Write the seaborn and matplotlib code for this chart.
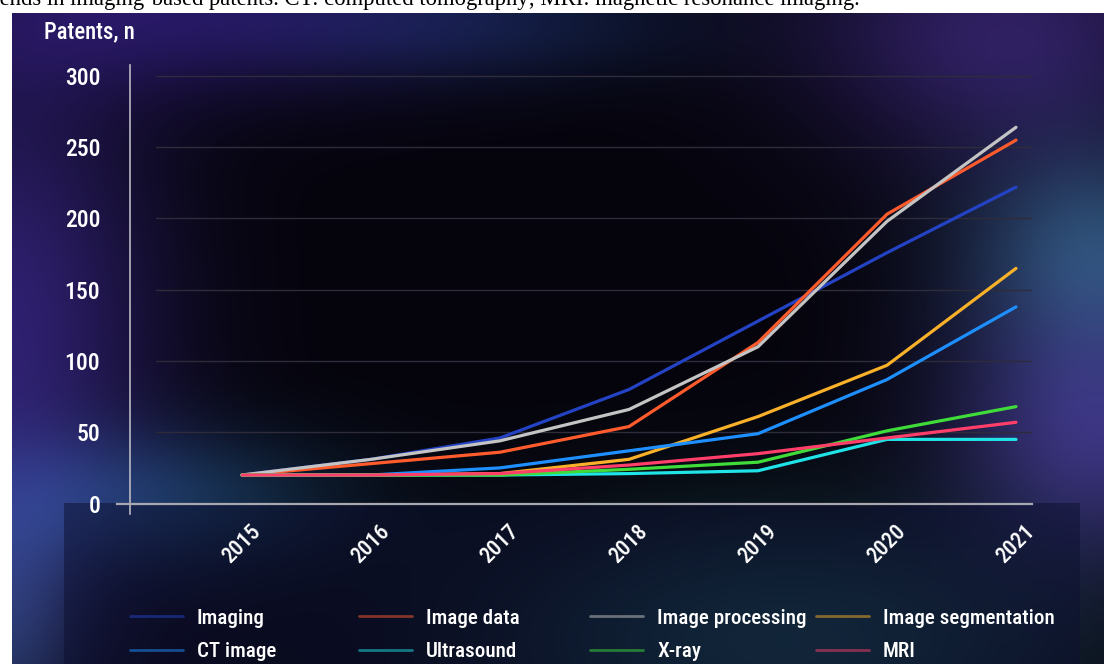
import os
import numpy as np
import pandas as pd
import matplotlib
matplotlib.use("Agg")
import matplotlib.pyplot as plt
from matplotlib import font_manager as fm
from matplotlib.font_manager import FontProperties
from matplotlib.textpath import TextPath
from matplotlib.lines import Line2D
from matplotlib.patches import Rectangle
import seaborn as sns

# ---- data -------------------------------------------------------------
years = [2015, 2016, 2017, 2018, 2019, 2020, 2021]
imaging = [20, 31, 46, 80, 128, 176, 222]
image_data = [20, 28, 36, 54, 113, 203, 255]
image_processing = [20, 31, 44, 66, 110, 198, 264]
image_segmentation = [20, 20, 21, 31, 61, 97, 165]
ct_image = [20, 20, 25, 37, 49, 87, 138]
ultrasound = [20, 20, 20, 21, 23, 45, 45]
xray = [20, 20, 20, 24, 29, 51, 68]
mri = [20, 20, 21, 27, 35, 46, 57]

series_names = ["Imaging", "Image data", "Image processing", "Image segmentation",
                "CT image", "Ultrasound", "X-ray", "MRI"]
series_values = [imaging, image_data, image_processing, image_segmentation,
                 ct_image, ultrasound, xray, mri]
series_colors = ["#2443c4", "#ff5b2c", "#c4c4c4", "#f9b12a",
                 "#1e8fff", "#1fe3e6", "#3fdc3a", "#ff3e6a"]
y_ticks = [0, 50, 100, 150, 200, 250, 300]

df = pd.DataFrame({
    "year": np.tile(years, len(series_names)),
    "patents": np.concatenate(series_values),
    "series": np.repeat(series_names, len(years)),
})

# ---- style ------------------------------------------------------------
sns.set_style("dark")
plt.rcParams["font.family"] = ["Roboto", "DejaVu Sans"]


def condensed_font():
    """Prefer a regular-weight condensed sans face when one is installed."""
    prefs = ["roboto", "opensans", "open sans", "noto", "liberation", "lato", "dejavu"]
    found = []
    for f in fm.fontManager.ttflist:
        fn = os.path.basename(f.fname).lower()
        nm = f.name.lower()
        tag = fn + " " + nm + " " + str(f.stretch).lower()
        if not any(k in tag for k in ("condensed", "narrow")):
            continue
        if f.style != "normal" or "mono" in tag or "bold" in fn or "light" in fn:
            continue
        if "serif" in tag and "sans" not in tag:
            continue
        try:
            w = int(f.weight)
        except (TypeError, ValueError):
            w = 400 if str(f.weight) in ("normal", "regular", "book", "medium") else 700
        if w > 550:
            continue
        rank = next((i for i, k in enumerate(prefs) if k in tag), len(prefs))
        found.append((rank, fn, f.fname))
    if found:
        found.sort()
        return FontProperties(fname=found[0][2])
    return FontProperties(family="Roboto")


fp = condensed_font()


def fit_size(text, target_px, max_size):
    w = TextPath((0, 0), text, size=max_size, prop=fp).get_extents().width * 100 / 72
    return min(max_size, max_size * target_px / w)


legend_size = fit_size("Image segmentation", 168, 16)
tick_size = fit_size("300", 34, 17)
xtick_size = fit_size("2015", 45, 16)
label_size = fit_size("Patents, n", 88, 17)

W, H = 1104, 664
fig = plt.figure(figsize=(W / 100, H / 100), dpi=100, facecolor="white")

# ---- glowing backdrop -------------------------------------------------
bg = fig.add_axes([0, 0, 1, 1])
bg.set_xlim(0, W)
bg.set_ylim(H, 0)
bg.axis("off")

x0, y0 = 12, 13
yy, xx = np.mgrid[y0:H, x0:W] + 0.5
img = np.zeros(xx.shape + (3,)) + np.array([5, 4, 12], float)


def glow(cx, cy, sx, sy, rgb):
    g = np.exp(-(((xx - cx) / sx) ** 2 + ((yy - cy) / sy) ** 2) / 2)
    return g[..., None] * np.array(rgb, float)


img += glow(0, 330, 110, 200, (42, 28, 100))
img += glow(180, 10, 200, 60, (30, 15, 75))
img += glow(480, 25, 160, 40, (8, 22, 40))
img += glow(160, 500, 130, 50, (15, 45, 65))
img += glow(0, 620, 60, 90, (25, 45, 70))
img += glow(1000, 30, 140, 90, (40, 25, 80))
img += glow(1104, 250, 90, 70, (25, 60, 70))
img += glow(1104, 430, 100, 90, (45, 36, 92))
img += glow(1060, 320, 110, 170, (12, 14, 30))
img += glow(780, 640, 200, 90, (18, 55, 55))
img = np.clip(img, 0, 255).astype(np.uint8)
bg.imshow(img, extent=(x0, W, H, y0), aspect="auto", interpolation="bilinear")
bg.add_patch(Rectangle((64, 503), 1016, H - 503, facecolor="#0d1030",
                       alpha=0.5, edgecolor="none"))

fig.text(-21 / W, 1 - 5 / H,
         "Trends in imaging-based patents. CT: computed tomography; "
         "MRI: magnetic resonance imaging.",
         family="Liberation Serif", size=16.3, va="baseline", color="black")

# ---- main chart -------------------------------------------------------
ax = fig.add_axes([117 / W, (H - 513.5) / H, 915 / W, 448.5 / H])
ax.set_facecolor("none")
ax.set_xlim(2014.031, 2021.124)
ax.set_ylim(-7.0, 307.7)

for y in y_ticks[1:]:
    ax.axhline(y, xmin=(156 - 117) / 915, xmax=1, color="#2e2c3a", lw=1, zorder=1)

sns.lineplot(data=df, x="year", y="patents", hue="series", hue_order=series_names,
             palette=dict(zip(series_names, series_colors)), linewidth=2.3,
             estimator=None, legend=False, ax=ax, zorder=3)

ax.grid(False)
for s in ("top", "right"):
    ax.spines[s].set_visible(False)
ax.spines["left"].set_position(("data", 2014.132))
ax.spines["bottom"].set_position(("data", 0))
ax.spines["left"].set_color("#b8b8c2")
ax.spines["bottom"].set_color("#a8a8b0")
ax.spines["left"].set_linewidth(1.2)
ax.spines["bottom"].set_linewidth(1.6)

ax.set_yticks(y_ticks)
ax.set_yticklabels([str(v) for v in y_ticks], fontproperties=fp, size=tick_size)
ax.set_xticks(years)
ax.set_xticklabels([str(v) for v in years], rotation=45, ha="center",
                   fontproperties=fp, size=xtick_size)
ax.tick_params(axis="y", direction="inout", length=18, width=1.1, color="#b8b8c2",
               labelcolor="white", pad=12.5)
ax.tick_params(axis="x", direction="inout", length=16.5, width=1.1, color="#b8b8c2",
               labelcolor="white", pad=4)
ax.set_xlabel("")
ax.set_ylabel("")

fig.text(44 / W, 1 - 32 / H, "Patents, n", color="white", fontproperties=fp,
         size=label_size, va="center")

# ---- legend: four columns of two entries ------------------------------
fs_px = legend_size * 100 / 72
col_x = [130, 359, 590, 816]
for c, cx in enumerate(col_x):
    idx = [c, c + 4]
    handles = [Line2D([], [], color=series_colors[i], lw=2, alpha=0.5) for i in idx]
    labels = [series_names[i] for i in idx]
    leg_prop = fp.copy()
    leg_prop.set_size(legend_size)
    fig.legend(handles, labels, loc="upper left",
               bbox_to_anchor=(cx / W, 1 - (617 - 0.4 * fs_px) / H),
               frameon=False, borderpad=0, borderaxespad=0, prop=leg_prop,
               handlelength=53 / fs_px, handletextpad=14 / fs_px,
               labelspacing=(34 - 0.93 * fs_px) / fs_px, labelcolor="white")

fig.savefig("out.png", dpi=100, facecolor="white")
